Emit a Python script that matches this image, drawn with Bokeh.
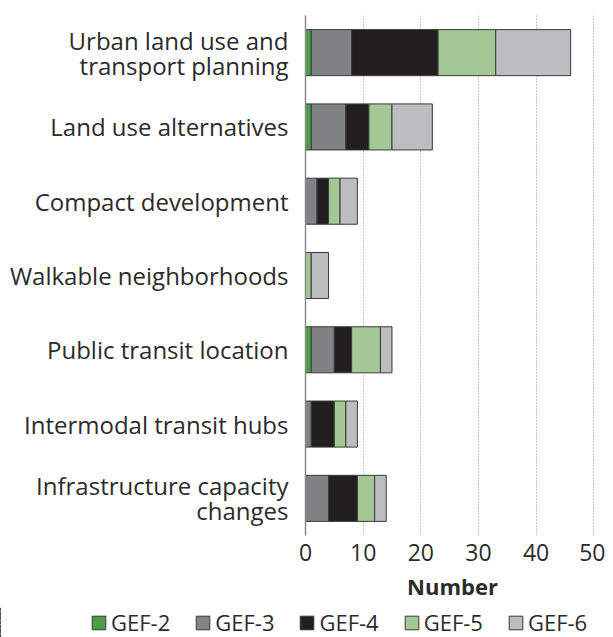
from bokeh.plotting import figure
from bokeh.layouts import column
from bokeh.models import ColumnDataSource, FactorRange, Range1d, Legend, LegendItem
from bokeh.embed import file_html
from bokeh.resources import INLINE

categories = [
    "Urban land use and\ntransport planning",
    "Land use alternatives",
    "Compact development",
    "Walkable neighborhoods",
    "Public transit location",
    "Intermodal transit hubs",
    "Infrastructure capacity\nchanges",
]
series = ["GEF-2", "GEF-3", "GEF-4", "GEF-5", "GEF-6"]
gef2 = [1, 1, 0, 0, 1, 0, 0]
gef3 = [7, 6, 2, 0, 4, 1, 4]
gef4 = [15, 4, 2, 0, 3, 4, 5]
gef5 = [10, 4, 2, 1, 5, 2, 3]
gef6 = [13, 7, 3, 3, 2, 2, 2]
x_ticks = [0, 10, 20, 30, 40, 50]

colors = ["#4a9e46", "#808285", "#231f20", "#a3c795", "#bcbdc0"]
FONT = "Open Sans"
TXT = "#2b2b2b"

source = ColumnDataSource(dict(cat=categories, **{
    "GEF-2": gef2, "GEF-3": gef3, "GEF-4": gef4, "GEF-5": gef5, "GEF-6": gef6}))

p = figure(width=605, height=607, output_backend="svg", toolbar_location=None,
           y_range=FactorRange(*categories[::-1]), x_range=Range1d(0, 51),
           min_border_left=305, min_border_right=6, min_border_top=15,
           min_border_bottom=72)
p.frame_align = False
p.outline_line_color = None
p.background_fill_color = "white"

p.hbar_stack(series, y="cat", height=0.62, color=colors, source=source,
             line_color="#3a3a3a", line_width=1)

# axes
p.xaxis.ticker = x_ticks
p.xaxis.axis_line_color = None
p.xaxis.major_tick_line_color = None
p.xaxis.minor_tick_line_color = None
p.xaxis.major_label_text_font = FONT
p.xaxis.major_label_text_font_size = "23px"
p.xaxis.major_label_text_color = TXT
p.xaxis.major_label_standoff = 2
p.xaxis.axis_label = "Number"
p.xaxis.axis_label_text_font = FONT
p.xaxis.axis_label_text_font_size = "22px"
p.xaxis.axis_label_text_font_style = "bold"
p.xaxis.axis_label_text_color = TXT
p.xaxis.axis_label_standoff = 7

p.yaxis.axis_line_color = "#8a8a8a"
p.yaxis.axis_line_width = 1.5
p.yaxis.major_tick_line_color = None
p.yaxis.minor_tick_line_color = None
p.yaxis.major_label_text_font = FONT
p.yaxis.major_label_text_font_size = "24px"
p.yaxis.major_label_text_color = TXT
p.yaxis.major_label_text_line_height = 0.75
p.yaxis.major_label_standoff = 11

p.ygrid.grid_line_color = None
p.xgrid.ticker = x_ticks[1:]
p.xgrid.grid_line_color = "#8c8c8c"
p.xgrid.grid_line_dash = "1 2"
p.xgrid.grid_line_width = 1

# legend strip: same stacked series, kept outside its visible x range
q = figure(width=605, height=30, output_backend="svg", toolbar_location=None,
           y_range=FactorRange(*categories[::-1]), x_range=Range1d(60, 61),
           x_axis_location=None, y_axis_location=None,
           min_border_left=0, min_border_right=0, min_border_top=0, min_border_bottom=0)
q.frame_align = False
q.outline_line_color = None
q.grid.visible = False
rs = q.hbar_stack(series, y="cat", height=0.62, color=colors, source=source,
                  line_color="#3a3a3a", line_width=1)

lg = Legend(items=[LegendItem(label=s, renderers=[r]) for s, r in zip(series, rs)])
lg.orientation = "horizontal"
lg.location = (90, 0)
lg.glyph_width = 17
lg.glyph_height = 17
lg.label_text_font = FONT
lg.label_text_font_size = "22px"
lg.label_text_color = TXT
lg.label_text_line_height = 1.0
lg.label_standoff = 4
lg.spacing = 24
lg.padding = 0
lg.margin = 0
lg.border_line_color = None
lg.background_fill_alpha = 0
q.add_layout(lg, "center")

open("out.html", "w").write(file_html(column(p, q, spacing=0), INLINE))
